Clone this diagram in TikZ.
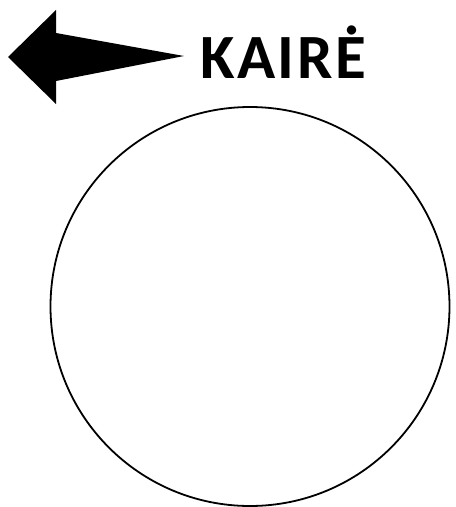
\documentclass[tikz,border=0pt]{standalone}
\usepackage{fontspec}
\setmainfont{Carlito}
\begin{document}
\begin{tikzpicture}[x=1pt,y=-1pt,
  label/.style={font=\bfseries\fontsize{63}{66}\selectfont\addfontfeature{LetterSpace=4}, inner sep=0pt, anchor=base west},
  ring/.style={circle, draw=black, line width=1.8pt, minimum size=399pt, inner sep=0pt}]
\useasboundingbox (0,0) rectangle (456,507);
\fill[black] (8,57) -- (56,10) -- (56,33) -- (184,56) -- (56,81) -- (56,104) -- cycle;
\node[label] (title) at (200,78) {KAIRĖ};
\node[ring] (c) at (250,306.5) {};
\end{tikzpicture}
\end{document}
